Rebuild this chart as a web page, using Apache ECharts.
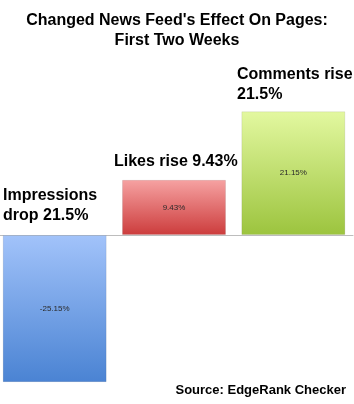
<!DOCTYPE html>
<html><head><meta charset="utf-8">
<script src="https://cdn.jsdelivr.net/npm/echarts@6/dist/echarts.min.js"></script>
<style>html,body{margin:0;padding:0;background:#fff}#c{width:354px;height:404px}</style>
</head><body><div id="c"></div>
<script>
const categories = ['Impressions', 'Likes', 'Comments'];
const values = [-25.15, 9.43, 21.15];
const valueLabels = ['-25.15%', '9.43%', '21.15%'];
const annotations = [['Impressions', 'drop 21.5%'], ['Likes rise 9.43%'], ['Comments rise', '21.5%']];
const titleLines = ["Changed News Feed's Effect On Pages:", 'First Two Weeks'];
const sourceText = 'Source: EdgeRank Checker';

const gradients = [
  ['#a2c3fa', '#4a83d3'],
  ['#f6a2a2', '#cc3c3c'],
  ['#e3f8a0', '#9cc43e']
];

const chart = echarts.init(document.getElementById('c'), null, {renderer: 'canvas'});
const F = '"Liberation Sans", Arial, sans-serif';

chart.setOption({
  animation: false,
  backgroundColor: '#fff',
  title: {
    text: titleLines.join('\n'),
    left: 'center', top: 6,
    textStyle: {fontFamily: F, fontWeight: 'bold', fontSize: 16, lineHeight: 20, color: '#000'}
  },
  grid: {left: -5, width: 358, top: 59.5, height: 351, outerBoundsMode: 'none', containLabel: false},
  xAxis: {
    type: 'category', data: categories,
    axisLabel: {show: false}, axisTick: {show: false},
    axisLine: {lineStyle: {color: '#bdbdbd', width: 1}}
  },
  yAxis: {
    type: 'value', min: -30, max: 30, interval: 10,
    axisLabel: {show: false}, axisLine: {show: false}, axisTick: {show: false},
    splitLine: {show: false}
  },
  series: [{
    type: 'bar', barWidth: 104,
    data: values.map((v, i) => ({
      value: v,
      itemStyle: {
        color: new echarts.graphic.LinearGradient(0, 0, 0, 1, [
          {offset: 0, color: gradients[i][0]}, {offset: 1, color: gradients[i][1]}
        ]),
        borderColor: 'rgba(0,0,0,0.08)', borderWidth: 1
      },
      label: {formatter: valueLabels[i]}
    })),
    label: {show: true, position: 'inside', fontFamily: F, fontSize: 8, color: '#2a2a2a'}
  }],
  graphic: [
    {type: 'text', left: 3, top: 186, style: {text: annotations[0].join('\n'), font: 'bold 16px ' + F, lineHeight: 20, fill: '#000'}},
    {type: 'text', left: 114, top: 152, style: {text: annotations[1].join('\n'), font: 'bold 16px ' + F, lineHeight: 20, fill: '#000'}},
    {type: 'text', left: 237, top: 65, style: {text: annotations[2].join('\n'), font: 'bold 16px ' + F, lineHeight: 20, fill: '#000'}},
    {type: 'text', right: 8, top: 384, style: {text: sourceText, font: 'bold 13px ' + F, fill: '#000'}}
  ]
});
</script></body></html>
